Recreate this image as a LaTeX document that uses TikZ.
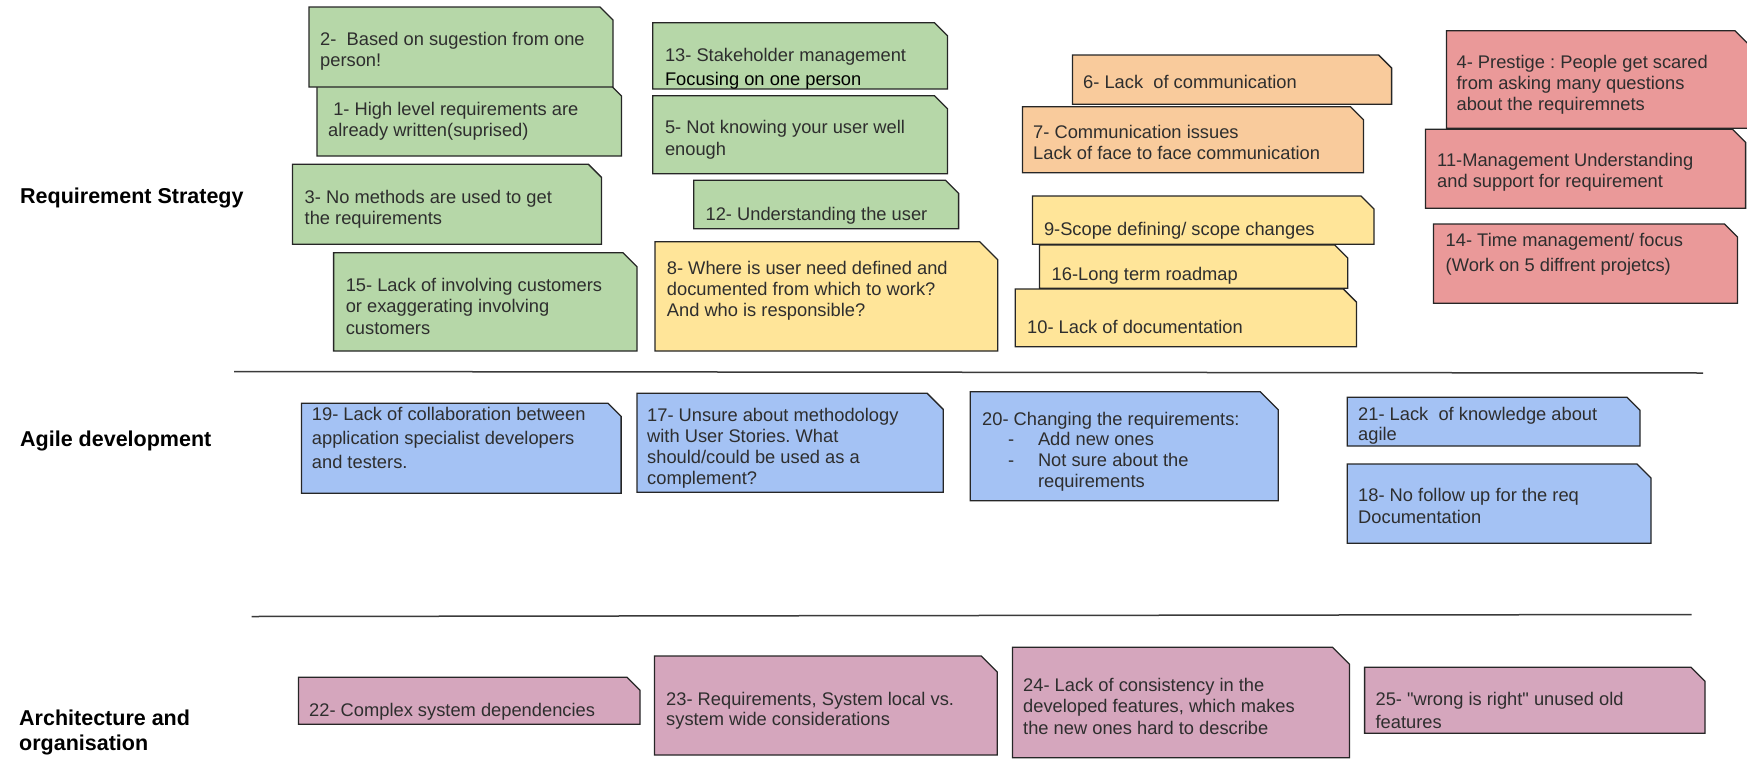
\documentclass[tikz,border=0pt]{standalone}
\usepackage{fontspec}
\setmainfont[Ligatures=TeXOff]{Liberation Sans}
\frenchspacing
\definecolor{cgreen}{HTML}{B6D7A8}
\definecolor{corange}{HTML}{F9CB9C}
\definecolor{cyellow}{HTML}{FFE599}
\definecolor{cred}{HTML}{EA9999}
\definecolor{cblue}{HTML}{A4C2F4}
\definecolor{cpink}{HTML}{D5A6BD}
\definecolor{txtgray}{HTML}{2E2E2E}
\definecolor{linegray}{HTML}{3A3A3A}
\newcommand\nb[7]{% name, x1, y1, x2, y2, fill, cut
  \draw[boxline, fill=#6] (#2,#3) coordinate (#1) -- ({#4-#7},#3) -- (#4,{#3+#7}) -- (#4,#5) coordinate (#1-se) -- (#2,#5) -- cycle;}
\newcommand\tb[2][21.7]{\parbox[t]{420pt}{\fontsize{18.3}{#1}\selectfont\frenchspacing\raggedright #2}}
\tikzset{
  boxline/.style={draw=black!85, line width=1.3pt, line join=miter},
  txt/.style={anchor=base west, inner sep=0pt, text=txtgray},
  lbl/.style={anchor=base west, inner sep=0pt, text=black, font=\fontsize{21.5}{25}\selectfont\bfseries, align=left},
  sep/.style={draw=linegray, line width=1.5pt}
}
\begin{document}
\begin{tikzpicture}[x=1pt, y=-1pt]
\useasboundingbox (0,0) rectangle (1747,763);
% labels
\node[lbl] (lreq) at (20,203) {Requirement Strategy};
\node[lbl] (lagile) at (20,446.7) {Agile development};
\node[lbl] (larch) at (19,725) {\parbox[t]{220pt}{\fontsize{21.5}{25}\selectfont\bfseries Architecture and\\organisation}};
% separators
\coordinate (s1a) at (234,371.5); \coordinate (s1b) at (1703,373);
\coordinate (s2a) at (251.5,616.5); \coordinate (s2b) at (1691.5,614.5);
\draw[sep] (s1a) -- (s1b);
\draw[sep] (s2a) -- (s2b);
% green
\nb{b1}{317}{83}{621.5}{156}{cgreen}{13}
\nb{b2}{309}{7}{613}{87}{cgreen}{13}
\nb{b3}{292.5}{164.3}{601.4}{244.3}{cgreen}{13}
\nb{b15}{333.6}{252.7}{637}{351}{cgreen}{14}
\nb{b13}{652.8}{22.7}{947.4}{89}{cgreen}{13}
\nb{b5}{652.8}{95.7}{947.4}{173.7}{cgreen}{13}
\nb{b12}{693.8}{180.3}{958.6}{228.7}{cgreen}{13}
\node[txt] (t2) at (320,45) {\tb{2-\ \ Based on sugestion from one\\person!}};
\node[txt] (t1) at (328,115) {\tb{\ 1- High level requirements are\\already written(suprised)}};
\node[txt] (t3) at (304.5,203) {\tb{3- No methods are used to get\\the requirements}};
\node[txt] (t15) at (345.6,291.7) {\tb[21.2]{15- Lack of involving customers\\or exaggerating involving\\customers}};
\node[txt] (t13) at (664.8,61.7) {\tb[23.3]{13- Stakeholder management\\\textcolor{black}{Focusing on one person}}};
\node[txt] (t5) at (664.8,133.3) {\tb{5- Not knowing your user well\\enough}};
\node[txt] (t12) at (705.4,220) {\tb{12- Understanding the user}};
% yellow
\nb{b8}{655}{241.7}{997.7}{351}{cyellow}{18}
\nb{b9}{1032.4}{196}{1374}{244.3}{cyellow}{13}
\nb{b16}{1039.5}{245}{1347.8}{288.3}{cyellow}{13}
\nb{b10}{1015.2}{289}{1356.4}{346.7}{cyellow}{13}
\node[txt] (t8) at (666.7,274.3) {\tb[20.9]{8- Where is user need defined and\\documented from which to work?\\And who is responsible?}};
\node[txt] (t9) at (1043.8,235) {\tb{9-Scope defining/ scope changes}};
\node[txt] (t16) at (1051.5,280) {\tb{16-Long term roadmap}};
\node[txt] (t10) at (1027,333.3) {\tb{10- Lack of documentation}};
% orange
\nb{b6}{1072.4}{55}{1391.6}{104.3}{corange}{13}
\nb{b7}{1022.4}{106.7}{1363.5}{172.7}{corange}{13}
\node[txt] (t6) at (1083,88.3) {\tb{6- Lack\ \ of communication}};
\node[txt] (t7) at (1033,138.3) {\tb[20.7]{7- Communication issues\\Lack of face to face communication}};
% red
\nb{b4}{1446.5}{30.7}{1749}{128.3}{cred}{14}
\nb{b11}{1425.4}{129.3}{1745.6}{208.3}{cred}{13}
\nb{b14}{1433.5}{224}{1737.5}{303.3}{cred}{13}
\node[txt] (t4) at (1456.4,68.3) {\tb[21.3]{4- Prestige : People get scared\\from asking many questions\\about the requiremnets}};
\node[txt] (t11) at (1437,166.7) {\tb[21]{11-Management Understanding\\and support for requirement}};
\node[txt] (t14) at (1445.5,246.7) {\tb[25]{14- Time management/ focus\\(Work on 5 diffrent projetcs)}};
% blue
\nb{b19}{301.4}{403.3}{621.1}{493.3}{cblue}{13}
\nb{b17}{637}{393.3}{943.2}{492.3}{cblue}{16}
\nb{b20}{970.2}{391.7}{1278.2}{500.7}{cblue}{18}
\nb{b21}{1347.3}{397.3}{1640}{446}{cblue}{13}
\nb{b18}{1347.3}{464}{1651}{543.3}{cblue}{14}
\node[txt] (t19) at (311.7,420) {\tb[24.2]{19- Lack of collaboration between\\application specialist developers\\and testers.}};
\node[txt] (t17) at (647,421) {\tb[21]{17- Unsure about methodology\\with User Stories. What\\should/could be used as a\\complement?}};
\node[txt] (t20) at (982,425) {\tb[20.9]{20- Changing the requirements:\\
  \hspace*{26pt}\makebox[29.8pt][l]{-}Add new ones\\
  \hspace*{26pt}\makebox[29.8pt][l]{-}Not sure about the\\
  \hspace*{55.8pt}requirements}};
\node[txt] (t21) at (1358,420) {\tb[20.5]{21- Lack\ \ of knowledge about\\agile}};
\node[txt] (t18) at (1358,501.7) {\tb[21.6]{18- No follow up for the req\\Documentation}};
% pink
\nb{b22}{298.5}{677.3}{640}{724.3}{cpink}{13}
\nb{b23}{654.4}{656}{997.2}{755}{cpink}{16}
\nb{b24}{1012.4}{647.3}{1349.5}{757.7}{cpink}{17}
\nb{b25}{1364.6}{667.3}{1705}{733.3}{cpink}{14}
\node[txt] (t22) at (309,716) {\tb{22- Complex system dependencies}};
\node[txt] (t23) at (666,705) {\tb[20.7]{23- Requirements, System local vs.\\system wide considerations}};
\node[txt] (t24) at (1023,691.7) {\tb[21.2]{24- Lack of consistency in the\\developed features, which makes\\the new ones hard to describe}};
\node[txt] (t25) at (1375.4,705) {\tb[23]{25- "wrong is right" unused old\\features}};
\end{tikzpicture}
\end{document}
